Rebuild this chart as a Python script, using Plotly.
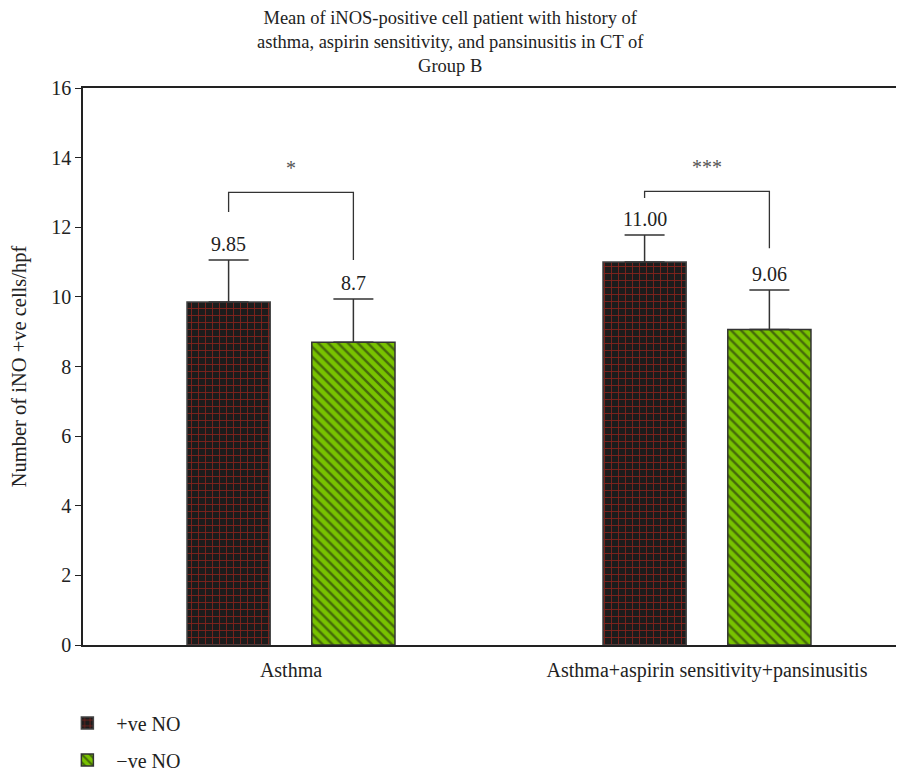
import plotly.graph_objects as go

categories = ["Asthma", "Asthma+aspirin sensitivity+pansinusitis"]
pos_values = [9.85, 11.00]
neg_values = [8.70, 9.06]
pos_sd = [1.21, 0.78]
neg_sd = [1.24, 1.14]
pos_labels = ["9.85", "11.00"]
neg_labels = ["8.7", "9.06"]
sig_labels = ["*", "***"]
bracket_top = [13.0, 13.03]
bracket_left_end = [12.44, 12.84]
bracket_right_end = [11.06, 11.40]
y_ticks = [0, 2, 4, 6, 8, 10, 12, 14, 16]

FONT = "Liberation Serif"
FS = 20
x_idx = list(range(len(categories)))
BAR_W = 0.2
POS_OFF = -0.25
NEG_OFF = 0.05

# page body has an 8px margin; figure is sized to fill the rest of the window
W, H = 896, 765

fig = go.Figure()
fig.add_trace(go.Bar(
    name="+ve NO", x=x_idx, y=pos_values, width=BAR_W, offset=POS_OFF, legendgroup="a",
    marker=dict(color="#1c1c1c", line=dict(color="#444444", width=1.5),
                pattern=dict(shape="+", fgcolor="#ea2a1c", size=7, solidity=0.24)),
    error_y=dict(type="data", array=pos_sd, arrayminus=[0, 0], symmetric=False,
                 color="#333333", thickness=1.5, width=20),
))
fig.add_trace(go.Bar(
    name="\u2212ve NO", x=x_idx, y=neg_values, width=BAR_W, offset=NEG_OFF, legendgroup="b",
    marker=dict(color="#78c200", line=dict(color="#333333", width=1.5),
                pattern=dict(shape="\\", fgcolor="#111111", size=7, solidity=0.35)),
    error_y=dict(type="data", array=neg_sd, arrayminus=[0, 0], symmetric=False,
                 color="#333333", thickness=1.5, width=20),
))

annotations = []
shapes = []
for i in x_idx:
    xp = i + POS_OFF + BAR_W / 2
    xn = i + NEG_OFF + BAR_W / 2
    annotations.append(dict(x=xp, y=pos_values[i] + pos_sd[i], text=pos_labels[i],
                            showarrow=False, yanchor="bottom", yshift=3,
                            font=dict(family=FONT, size=FS, color="#222")))
    annotations.append(dict(x=xn, y=neg_values[i] + neg_sd[i], text=neg_labels[i],
                            showarrow=False, yanchor="bottom", yshift=3,
                            font=dict(family=FONT, size=FS, color="#222")))
    path = "M %f,%f L %f,%f L %f,%f L %f,%f" % (
        xp, bracket_left_end[i], xp, bracket_top[i], xn, bracket_top[i], xn, bracket_right_end[i])
    shapes.append(dict(type="path", path=path, xref="x", yref="y",
                       line=dict(color="#333333", width=1.3)))
    annotations.append(dict(x=(xp + xn) / 2, y=bracket_top[i], text=sig_labels[i],
                            showarrow=False, yanchor="bottom", yshift=11,
                            font=dict(family=FONT, size=FS, color="#555")))

# title as a paper-anchored annotation block for precise placement
annotations.append(dict(
    text="Mean of iNOS-positive cell patient with history of<br>"
         "asthma, aspirin sensitivity, and pansinusitis in CT of<br>Group B",
    xref="paper", yref="paper", x=(450 - 83) / 821, y=1 + (88 - 6) / 557,
    xanchor="center", yanchor="top", showarrow=False, align="center",
    font=dict(family=FONT, size=18.5, color="#222")))

fig.update_layout(
    width=W, height=H,
    margin=dict(l=75, r=0, t=80, b=128, autoexpand=False),
    plot_bgcolor="white", paper_bgcolor="white",
    font=dict(family=FONT, size=FS, color="#222"),
    xaxis=dict(range=[-0.5, 1.4736], tickmode="array", tickvals=x_idx, ticktext=categories,
               showline=True, linecolor="#222", linewidth=1.5, mirror=True,
               ticks="", showgrid=False, zeroline=False, automargin=False,
               ticklabelstandoff=6,
               tickfont=dict(family=FONT, size=FS, color="#222")),
    yaxis=dict(range=[0, 16], tickvals=y_ticks, showline=True, linecolor="#222", linewidth=1.5,
               ticks="outside", ticklen=6, tickcolor="#222", showgrid=False, zeroline=False,
               automargin=False,
               title=dict(text="Number of iNO +ve cells/hpf", standoff=20,
                          font=dict(family=FONT, size=20.5, color="#222")),
               tickfont=dict(family=FONT, size=FS, color="#222")),
    legend=dict(x=-0.03, xanchor="left", y=-0.105, yanchor="top", orientation="v",
                font=dict(family=FONT, size=FS, color="#222"), bgcolor="rgba(0,0,0,0)",
                tracegroupgap=8, itemwidth=48),
    showlegend=True,
    annotations=annotations,
    shapes=shapes,
)

fig.write_html("out.html")
